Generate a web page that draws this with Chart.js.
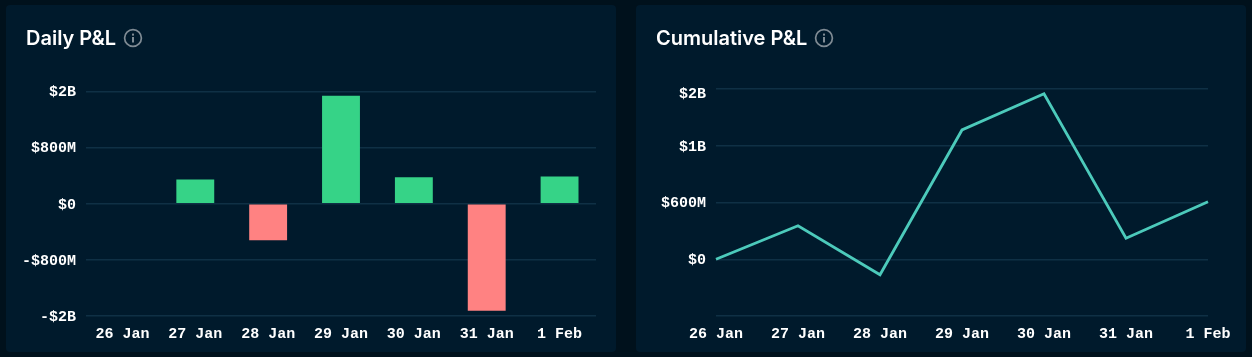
<!DOCTYPE html>
<html><head><meta charset="utf-8">
<script src="https://cdn.jsdelivr.net/npm/chart.js@4"></script>
<style>
html,body{margin:0;padding:0;background:#00111c;width:1252px;height:357px;overflow:hidden}
.card{position:absolute;top:5px;height:347px;background:#001a2c;border-radius:4px}
#c1{left:6px;width:610px}
#c2{left:636px;width:610px}
.title{position:absolute;top:20.5px;left:20px;font:600 20px Inter,Roboto,sans-serif;color:#fff;white-space:nowrap;display:flex;align-items:center;line-height:24px}
.title svg{margin-left:7px}
canvas{position:absolute;left:0;top:0}
.wrap{position:absolute;left:0;top:0;width:610px;height:347px}
</style></head><body>
<div class="card" id="c1"><div class="wrap"><canvas id="daily"></canvas></div>
<div class="title">Daily P&amp;L<svg width="20" height="20" viewBox="0 0 20 20"><circle cx="10" cy="10" r="8.4" fill="none" stroke="#7f8b94" stroke-width="1.7"/><rect x="9" y="9" width="2" height="5.5" fill="#7f8b94"/><rect x="9" y="5.6" width="2" height="2" fill="#7f8b94"/></svg></div></div>
<div class="card" id="c2"><div class="wrap"><canvas id="cum"></canvas></div>
<div class="title">Cumulative P&amp;L<svg width="20" height="20" viewBox="0 0 20 20"><circle cx="10" cy="10" r="8.4" fill="none" stroke="#7f8b94" stroke-width="1.7"/><rect x="9" y="9" width="2" height="5.5" fill="#7f8b94"/><rect x="9" y="5.6" width="2" height="2" fill="#7f8b94"/></svg></div></div>
<script>
const categories=['26 Jan','27 Jan','28 Jan','29 Jan','30 Jan','31 Jan','1 Feb'];
const dailyValues=[0,347e6,-520e6,1540e6,376e6,-1525e6,390e6];
const cumulativeValues=[0,354e6,-164e6,1367e6,1750e6,222e6,608e6];
const dailyTicks=[1.6e9,8e8,0,-8e8,-1.6e9];
const dailyTickLabels=['$2B','$800M','$0','-$800M','-$2B'];
const cumTicks=[1.8e9,1.2e9,6e8,0,-6e8];
const cumTickLabels=['$2B','$1B','$600M','$0',''];
const GREEN='#36d387',RED='#ff8282',TEAL='#4ccabb',GRID='#0f3045';
const tickFont={family:'"Liberation Mono",monospace',size:15,weight:'bold'};
Chart.defaults.animation=false;
function yAxis(ticks,labels){return{
  type:'linear',min:ticks[ticks.length-1],max:ticks[0],
  afterBuildTicks:s=>{s.ticks=ticks.map(v=>({value:v}));},
  ticks:{color:'#fff',font:tickFont,padding:10,labelOffset:1,autoSkip:false,callback:v=>labels[ticks.indexOf(v)]},
  grid:{color:GRID,lineWidth:1.5,drawTicks:false},border:{display:false},
  afterFit:s=>{s.width=80;}
};}
function xAxis(){return{
  ticks:{color:'#fff',font:tickFont,maxRotation:0,autoSkip:false,padding:9},
  grid:{display:false,drawTicks:false},border:{display:false}
};}
const shiftTopLabel={id:'shiftTopLabel',beforeDraw(ch){
  if(ch.$shifted)return;ch.$shifted=true;
  const it=ch.scales.y.getLabelItems().find(i=>i.label==='$2B');
  if(it)it.options.translation[1]+=4;
}};
new Chart(document.getElementById('daily'),{type:'bar',
  data:{labels:categories,datasets:[{data:dailyValues,
    backgroundColor:dailyValues.map(v=>v<0?RED:GREEN),barPercentage:0.52,categoryPercentage:1}]},
  options:{responsive:true,maintainAspectRatio:false,
    layout:{padding:{top:86.5,right:20,bottom:0,left:0}},
    plugins:{legend:{display:false},tooltip:{enabled:false}},
    scales:{x:xAxis(),y:yAxis(dailyTicks,dailyTickLabels)}}});
new Chart(document.getElementById('cum'),{type:'line',
  data:{labels:categories,datasets:[{data:cumulativeValues,borderColor:TEAL,borderWidth:2.8,
    pointRadius:0,tension:0,fill:false}]},
  options:{responsive:true,maintainAspectRatio:false,
    layout:{padding:{top:84,right:38,bottom:0,left:0}},
    plugins:{legend:{display:false},tooltip:{enabled:false}},
    scales:{x:xAxis(),y:yAxis(cumTicks,cumTickLabels)}},
  plugins:[shiftTopLabel]});
</script>
</body></html>
